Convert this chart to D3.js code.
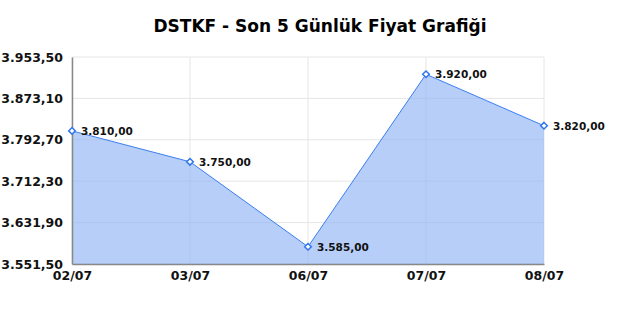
<!DOCTYPE html>
<html>
<head>
<meta charset="utf-8">
<script src="https://cdn.jsdelivr.net/npm/d3@7"></script>
<style>
  body { margin: 0; background: #fff; }
  svg text { font-family: "DejaVu Sans", sans-serif; }
</style>
</head>
<body>
<div id="chart"></div>
<script>
// Price chart, last 5 days
const dates  = ['02/07', '03/07', '06/07', '07/07', '08/07'];
const prices = [3810, 3750, 3585, 3920, 3820];
const yTicks = [3551.5, 3631.9, 3712.3, 3792.7, 3873.1, 3953.5];

const width = 640, height = 320;
const margin = { top: 57, right: 96, bottom: 56, left: 72 };

const tr = d3.formatLocale({ decimal: ',', thousands: '.', grouping: [3], currency: ['', ''] });
const fmt = tr.format(',.2f');

const data = dates.map((d, i) => ({ date: d, price: prices[i] }));

const x = d3.scalePoint()
            .domain(dates)
            .range([margin.left, width - margin.right]);

const y = d3.scaleLinear()
            .domain([yTicks[0], yTicks[yTicks.length - 1]])
            .range([height - margin.bottom, margin.top]);

const svg = d3.select('#chart')
              .append('svg')
              .attr('width', width)
              .attr('height', height);

// title
svg.append('text')
   .attr('x', 320).attr('y', 32)
   .attr('text-anchor', 'middle')
   .style('font-size', '17px').style('font-weight', 'bold')
   .text('DSTKF - Son 5 Günlük Fiyat Grafiği');

// grid
svg.append('g').selectAll('line.h')
   .data(yTicks).enter().append('line')
   .attr('x1', margin.left).attr('x2', width - margin.right)
   .attr('y1', d => y(d)).attr('y2', d => y(d))
   .attr('stroke', '#e6e6e6').attr('stroke-width', 1);

svg.append('g').selectAll('line.v')
   .data(dates).enter().append('line')
   .attr('x1', d => x(d)).attr('x2', d => x(d))
   .attr('y1', margin.top).attr('y2', height - margin.bottom)
   .attr('stroke', '#e6e6e6').attr('stroke-width', 1);

// area + line
const area = d3.area()
               .x(d => x(d.date))
               .y0(y(yTicks[0]))
               .y1(d => y(d.price));

const line = d3.line()
               .x(d => x(d.date))
               .y(d => y(d.price));

svg.append('path').datum(data)
   .attr('d', area)
   .attr('fill', '#8fb4f5').attr('fill-opacity', 0.65);

svg.append('path').datum(data)
   .attr('d', line)
   .attr('fill', 'none')
   .attr('stroke', '#3a7ff0').attr('stroke-width', 1);

// axes
const yAxis = svg.append('g')
   .attr('transform', 'translate(' + margin.left + ',0)')
   .call(d3.axisLeft(y).tickValues(yTicks).tickFormat(fmt).tickSize(0).tickPadding(9));

const xAxis = svg.append('g')
   .attr('transform', 'translate(0,' + (height - margin.bottom) + ')')
   .call(d3.axisBottom(x).tickSize(0).tickPadding(7));

[yAxis, xAxis].forEach(a => {
  a.select('.domain').attr('stroke', '#888').attr('stroke-width', 1.5);
  a.selectAll('text')
   .style('font-family', '"DejaVu Sans", sans-serif')
   .style('font-size', '12.5px').style('font-weight', 'bold')
   .attr('fill', '#111');
});
yAxis.selectAll('text').attr('dy', '0.32em');

// markers
svg.append('g').selectAll('path')
   .data(data).enter().append('path')
   .attr('d', d3.symbol().type(d3.symbolDiamond2).size(28))
   .attr('transform', d => 'translate(' + x(d.date) + ',' + y(d.price) + ')')
   .attr('fill', '#fff').attr('stroke', '#2f74ee').attr('stroke-width', 1.5);

// value labels
svg.append('g').selectAll('text')
   .data(data).enter().append('text')
   .attr('x', d => x(d.date) + 9)
   .attr('y', d => y(d.price) + 4)
   .style('font-size', '10.5px').style('font-weight', 'bold')
   .attr('fill', '#111')
   .text(d => fmt(d.price));
</script>
</body>
</html>
